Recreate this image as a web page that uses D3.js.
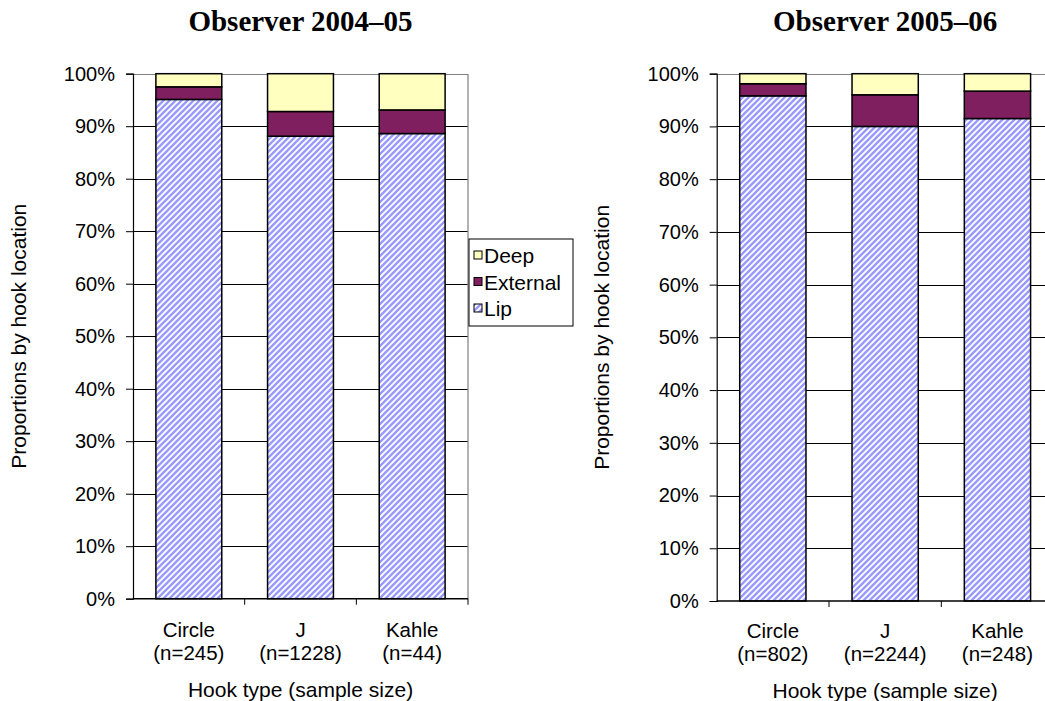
<!DOCTYPE html>
<html>
  <head>
    <title>Hook location by hook type</title>
    <script src="https://d3js.org/d3.v7.min.js"></script>
    <style>
      body { margin: 0; background: #fff; }
      text { font-family: "Liberation Sans", Arial, sans-serif; }
      .title { font-family: "Liberation Serif", "Times New Roman", serif; font-weight: bold; }
    </style>
  </head>
  <body>
    <svg id="chart" width="1045" height="701"></svg>
  </body>
  <script type="text/javascript">
    // hook types and sample sizes
    var categories = ["Circle", "J", "Kahle"];
    var sizes0405 = [245, 1228, 44];
    var sizes0506 = [802, 2244, 248];
    var seriesNames = ["Lip", "External", "Deep"];

    // proportions by hook location
    var lip0405 = [0.951, 0.881, 0.886];
    var external0405 = [0.024, 0.047, 0.045];
    var deep0405 = [0.025, 0.072, 0.069];

    var lip0506 = [0.958, 0.900, 0.915];
    var external0506 = [0.023, 0.060, 0.052];
    var deep0506 = [0.019, 0.040, 0.033];

    var yTicks = [0, 0.1, 0.2, 0.3, 0.4, 0.5, 0.6, 0.7, 0.8, 0.9, 1];

    var colors = { Lip: "url(#lipPattern)", External: "#7f1f5f", Deep: "#ffffc0" };

    var svg = d3.select("#chart");

    // diagonal stripes for Lip
    var pat = svg.append("defs").append("pattern")
        .attr("id", "lipPattern")
        .attr("patternUnits", "userSpaceOnUse")
        .attr("width", 6).attr("height", 6);
    pat.append("rect").attr("width", 6).attr("height", 6).attr("fill", "#ffffff");
    pat.append("path")
        .attr("d", "M-1,7 L7,-1 M-4,4 L4,-4 M2,10 L10,2")
        .attr("stroke", "#9a9aff")
        .attr("stroke-width", 2.4);

    function drawPanel(cfg) {
      var g = svg.append("g");
      var rows = categories.map(function (c, i) {
        return { cat: c, n: cfg.sizes[i], Lip: cfg.lip[i], External: cfg.external[i], Deep: cfg.deep[i] };
      });
      var stacked = d3.stack().keys(seriesNames)(rows);

      var x = d3.scaleBand().domain(categories)
          .range([cfg.left, cfg.right])
          .paddingInner(0.41).paddingOuter(0.205);
      var y = d3.scaleLinear().domain([0, 1]).range([cfg.bottom, cfg.top]);

      // gridlines
      g.selectAll("line.grid").data(yTicks.slice(1, -1)).enter().append("line")
          .attr("x1", cfg.left).attr("x2", cfg.right)
          .attr("y1", function (d) { return Math.round(y(d)) + 0.5; })
          .attr("y2", function (d) { return Math.round(y(d)) + 0.5; })
          .attr("stroke", "#000").attr("stroke-width", 1);
      // plot border top / right
      g.append("path")
          .attr("d", "M" + cfg.left + "," + (Math.round(y(1)) + 0.5) + "H" + cfg.right + "V" + cfg.bottom)
          .attr("fill", "none").attr("stroke", "#808080").attr("stroke-width", 1.2);

      // bars
      g.selectAll("g.series").data(stacked).enter().append("g")
          .attr("fill", function (s) { return colors[s.key]; })
        .selectAll("rect").data(function (s) { return s; }).enter().append("rect")
          .attr("x", function (d) { return x(d.data.cat); })
          .attr("width", x.bandwidth())
          .attr("y", function (d) { return y(d[1]); })
          .attr("height", function (d) { return y(d[0]) - y(d[1]); })
          .attr("stroke", "#000").attr("stroke-width", 1.5);

      // y axis
      var yAxis = g.append("g")
          .attr("transform", "translate(" + cfg.left + ",0)")
          .call(d3.axisLeft(y).tickValues(yTicks).tickFormat(d3.format(".0%")).tickSizeOuter(0).tickSize(7).tickPadding(11));
      yAxis.select(".domain").attr("stroke", "#000").attr("stroke-width", 1.2);
      yAxis.selectAll(".tick line").attr("stroke", "#000");
      yAxis.selectAll("text").attr("font-size", 20).attr("fill", "#000")
          .attr("font-family", "Liberation Sans, Arial, sans-serif");

      // x axis line + tick marks at category boundaries
      g.append("line")
          .attr("x1", cfg.left).attr("x2", cfg.right)
          .attr("y1", cfg.bottom).attr("y2", cfg.bottom)
          .attr("stroke", "#000").attr("stroke-width", 1.5);
      var bounds = categories.map(function (c) { return x(c) - x.step() * x.paddingInner() / 2 + x.step(); });
      g.selectAll("line.xt").data(bounds).enter().append("line")
          .attr("x1", function (d) { return d; }).attr("x2", function (d) { return d; })
          .attr("y1", cfg.bottom).attr("y2", cfg.bottom + 6)
          .attr("stroke", "#000");

      // category labels
      var lbl = g.selectAll("text.cat").data(rows).enter().append("text")
          .attr("text-anchor", "middle").attr("font-size", 20.5).attr("fill", "#000")
          .attr("x", function (d) { return x(d.cat) + x.bandwidth() / 2; });
      lbl.append("tspan")
          .attr("x", function (d) { return x(d.cat) + x.bandwidth() / 2; })
          .attr("y", cfg.labelY).text(function (d) { return d.cat; });
      lbl.append("tspan")
          .attr("x", function (d) { return x(d.cat) + x.bandwidth() / 2; })
          .attr("y", cfg.labelY + 23).text(function (d) { return "(n=" + d.n + ")"; });

      g.append("text").attr("text-anchor", "middle").attr("font-size", 21)
          .attr("x", (cfg.left + cfg.right) / 2).attr("y", cfg.labelY + 60)
          .text("Hook type (sample size)");

      g.append("text").attr("text-anchor", "middle").attr("font-size", 21)
          .attr("transform", "translate(" + cfg.yLabelX + "," + (cfg.top + cfg.bottom) / 2 + ") rotate(-90)")
          .text("Proportions by hook location");

      g.append("text").attr("class", "title").attr("text-anchor", "middle").attr("font-size", 29)
          .attr("x", (cfg.left + cfg.right) / 2).attr("y", 31)
          .text(cfg.title);
    }

    drawPanel({ title: "Observer 2004\u201305", sizes: sizes0405, lip: lip0405, external: external0405, deep: deep0405,
                left: 133, right: 468, top: 73.7, bottom: 598.7, labelY: 637, yLabelX: 26 });
    drawPanel({ title: "Observer 2005\u201306", sizes: sizes0506, lip: lip0506, external: external0506, deep: deep0506,
                left: 716.7, right: 1053.6, top: 73.7, bottom: 601, labelY: 638, yLabelX: 609 });

    // legend
    var legendItems = ["Deep", "External", "Lip"];
    var legend = svg.append("g").attr("transform", "translate(469,239)");
    legend.append("rect").attr("width", 104).attr("height", 87)
        .attr("fill", "#fff").attr("stroke", "#000").attr("stroke-width", 1);
    var li = legend.selectAll("g.item").data(legendItems).enter().append("g")
        .attr("transform", function (d, i) { return "translate(0," + (24 + i * 26.5) + ")"; });
    li.append("rect").attr("x", 5).attr("y", -12).attr("width", 8).attr("height", 8)
        .attr("fill", function (d) { return colors[d]; })
        .attr("stroke", "#000").attr("stroke-width", 1);
    li.append("text").attr("x", 15).attr("y", 0).attr("font-size", 21).text(function (d) { return d; });
  </script>
</html>
